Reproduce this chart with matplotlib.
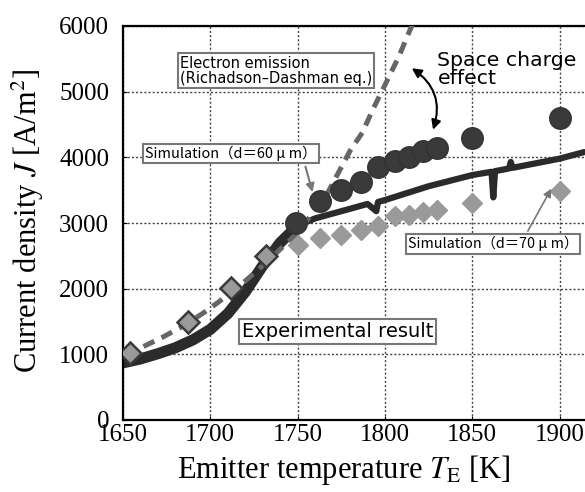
import matplotlib
matplotlib.use("Agg")
import matplotlib.pyplot as plt

plt.rcParams['mathtext.fontset'] = 'stix'

# Experimental result (thick jagged curve)
exp_T = [1650, 1660, 1670, 1680, 1690, 1700, 1710, 1720, 1730, 1740, 1750,
         1760, 1775, 1790, 1795, 1796, 1800, 1825, 1850, 1861, 1862, 1863,
         1871, 1872, 1873, 1900, 1914]
exp_J = [870, 930, 1010, 1100, 1220, 1380, 1620, 1950, 2350, 2700, 2960,
         3070, 3180, 3290, 3180, 3320, 3350, 3560, 3730, 3780, 3390, 3790,
         3830, 3930, 3840, 3980, 4080]

# Richardson-Dashman equation (dashed)
rd_T = [1652, 1660, 1673, 1685, 1696, 1704, 1715, 1730, 1750, 1767, 1780,
        1787, 1793, 1801, 1808, 1814, 1818]
rd_J = [960, 1097, 1265, 1440, 1630, 1783, 2000, 2350, 2850, 3450, 4100,
        4375, 4726, 5157, 5540, 5920, 6150]

# Simulation d = 60 um (circles)
s60_T = [1749, 1763, 1775, 1786, 1796, 1806, 1814, 1822, 1830, 1850, 1900]
s60_J = [3000, 3330, 3510, 3630, 3860, 3940, 4010, 4090, 4140, 4300, 4600]

# Simulation d = 70 um (diamonds)
s70_T = [1654, 1687, 1712, 1732, 1750, 1763, 1775, 1786, 1796, 1806, 1814,
         1822, 1830, 1850, 1900]
s70_J = [1020, 1500, 2005, 2490, 2670, 2770, 2820, 2900, 2950, 3100, 3125,
         3175, 3200, 3300, 3480]

xticks = [1650, 1700, 1750, 1800, 1850, 1900, 1950]
yticks = [0, 1000, 2000, 3000, 4000, 5000, 6000]

fig = plt.figure(figsize=(5.85, 4.92), dpi=100)
ax = fig.add_axes([123/585, 72/492, (647-123)/585, 394/492])

ax.plot(exp_T[:11], exp_J[:11], color='#2b2b2b', lw=8, solid_joinstyle='round',
        solid_capstyle='round', zorder=2)
ax.plot(exp_T, exp_J, color='#2b2b2b', lw=4.5, solid_joinstyle='round',
        solid_capstyle='round', zorder=2)
line, = ax.plot(rd_T, rd_J, color='#666666', lw=3.6, zorder=3)
line.set_dashes([2.4, 1.6])
ax.plot(s60_T, s60_J, 'o', ms=15.5, color='#3a3a3a', mec='#333333', zorder=4)
ax.plot(s70_T[4:], s70_J[4:], 'D', ms=10, color='#9a9a9a', mec='#9a9a9a', zorder=5)
ax.plot(s70_T[:4], s70_J[:4], 'D', ms=11.5, color='#9a9a9a', mec='#3a3a3a',
        mew=1.8, zorder=5)

ax.set_xlim(1650, 1950)
ax.set_ylim(0, 6000)
ax.set_xticks(xticks)
ax.set_yticks(yticks)
ax.grid(True, ls=(0, (1.5, 1.5)), color='#444444', lw=1)
ax.tick_params(direction='in', length=3, labelsize=18)
ax.tick_params(axis='y', pad=10)
ax.tick_params(axis='x', pad=3)
for lab in ax.get_xticklabels() + ax.get_yticklabels():
    lab.set_family('Liberation Serif')
for sp in ax.spines.values():
    sp.set_linewidth(1.6)

ax.set_xlabel(r'Emitter temperature $T_{\mathrm{E}}$ [K]', family='Liberation Serif',
              fontsize=22)
ax.xaxis.set_label_coords(0.422, -0.085)
ax.set_ylabel(r'Current density $J$ [A/m$^2$]', family='Liberation Serif',
              fontsize=22)
ax.yaxis.set_label_coords(-0.146, 0.505)

box = dict(boxstyle='square,pad=0.15', fc='white', ec='#777777', lw=1.5)
jp = ['Noto Sans CJK JP', 'DejaVu Sans']

ax.text(1682.5, 5320, 'Electron emission\n(Richadson\u2013Dashman eq.)', fontsize=10.5,
        family='DejaVu Sans', va='center', ha='left', bbox=box, linespacing=1.0,
        zorder=6)
ax.text(1662.5, 4060, 'Simulation（d＝60 μ m）', fontsize=10.4, family=jp,
        va='center', ha='left', bbox=box, zorder=6)
ax.text(1813, 2683, 'Simulation（d＝70 μ m）', fontsize=10.3, family=jp,
        va='center', ha='left', bbox=box, zorder=6)
ax.text(1718, 1349, 'Experimental result', fontsize=14, family='DejaVu Sans',
        va='center', ha='left', bbox=box, zorder=6)
ax.text(1830, 5340, 'Space charge\neffect', fontsize=14.7, family='DejaVu Sans',
        va='center', ha='left', linespacing=0.95, zorder=6)

ax.annotate('', xy=(1827, 4380), xytext=(1814, 5380),
            arrowprops=dict(arrowstyle='<|-|>', color='black', lw=1.5,
                            mutation_scale=14,
                            connectionstyle='arc3,rad=-0.4'), zorder=7)
ax.annotate('', xy=(1759, 3430), xytext=(1754, 3900),
            arrowprops=dict(arrowstyle='-|>', color='#777777', lw=1.5,
                            mutation_scale=12), zorder=7)
ax.annotate('', xy=(1896, 3560), xytext=(1881, 2840),
            arrowprops=dict(arrowstyle='-|>', color='#777777', lw=1.2,
                            mutation_scale=12), zorder=7)

fig.savefig('out.png', dpi=100)
